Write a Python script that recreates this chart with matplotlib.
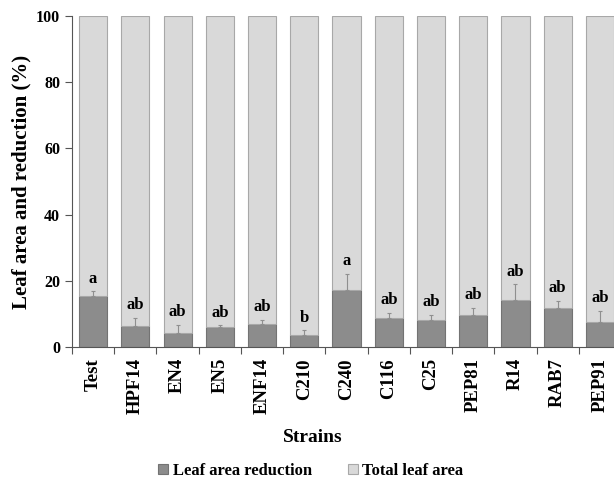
import matplotlib
matplotlib.use("Agg")
import matplotlib.pyplot as plt
import numpy as np

strains = ["Test", "HPF14", "EN4", "EN5", "ENF14", "C210", "C240", "C116", "C25", "PEP81", "R14", "RAB7", "PEP91"]
reduction = [15.3, 6.3, 4.2, 6.1, 6.9, 3.5, 17.2, 8.7, 8.2, 9.7, 14.3, 11.8, 7.5]
err = [1.5, 2.5, 2.4, 0.4, 1.3, 1.5, 4.9, 1.5, 1.6, 2.0, 4.6, 2.1, 3.5]
letters = ["a", "ab", "ab", "ab", "ab", "b", "a", "ab", "ab", "ab", "ab", "ab", "ab"]
total = [100 - r for r in reduction]

plt.rcParams['font.family'] = ['Liberation Serif', 'DejaVu Serif']
plt.rcParams['font.weight'] = 'bold'

fig = plt.figure(figsize=(6.14, 4.79), dpi=100)
ax = fig.add_axes([72/614, 1-347/479, 1-72/614, (347-16)/479])

x = np.arange(len(strains))
w = 0.667
ax.bar(x, reduction, w, color="#8c8c8c", edgecolor="#737373", linewidth=0.8,
       label="Leaf area reduction", zorder=2)
ax.bar(x, total, w, bottom=reduction, color="#d9d9d9", edgecolor="#a8a8a8", linewidth=0.8,
       label="Total leaf area", zorder=2)
ax.errorbar(x, reduction, yerr=[np.zeros(len(err)), err], fmt="none", ecolor="#8f8f8f",
            elinewidth=0.8, capsize=1.5, capthick=0.8, zorder=3)
for xi, r, e, l in zip(x, reduction, err, letters):
    ax.annotate(l, (xi, r + e), xytext=(0, 3.5), textcoords="offset points",
                ha="center", va="bottom", fontsize=12, fontweight="bold")

ax.set_xlim(-0.5, 12.333)
ax.set_ylim(0, 100)
ax.set_yticks([0, 20, 40, 60, 80, 100])
ax.set_xticks(np.arange(-0.5, 12.5, 1.0))
ax.set_xticklabels([])
ax.set_xticks(x, minor=True)
ax.set_xticklabels(strains, minor=True, rotation=90, fontsize=13.5, fontweight="bold")
ax.tick_params(axis="x", which="minor", length=0, pad=8)
ax.tick_params(axis="x", which="major", length=5, color="#555555")
ax.tick_params(axis="y", length=5, color="#555555", labelsize=11.5)
for lab in ax.get_yticklabels():
    lab.set_fontweight("bold")
for s in ["top", "right"]:
    ax.spines[s].set_visible(False)
for s in ["left", "bottom"]:
    ax.spines[s].set_color("#555555")
    ax.spines[s].set_linewidth(0.8)

ax.set_ylabel("Leaf area and reduction (%)", fontsize=15, fontweight="bold", labelpad=3)
fig.text(313/614, 1-438/479, "Strains", ha="center", va="center", fontsize=14, fontweight="bold")
fig.legend(loc="center", bbox_to_anchor=(311/614, 1-471/479), ncol=2, frameon=False,
           handlelength=0.55, handleheight=0.55, handletextpad=0.3, columnspacing=2.2,
           prop={"weight": "bold", "size": 12})

fig.savefig("out.png", dpi=100)
